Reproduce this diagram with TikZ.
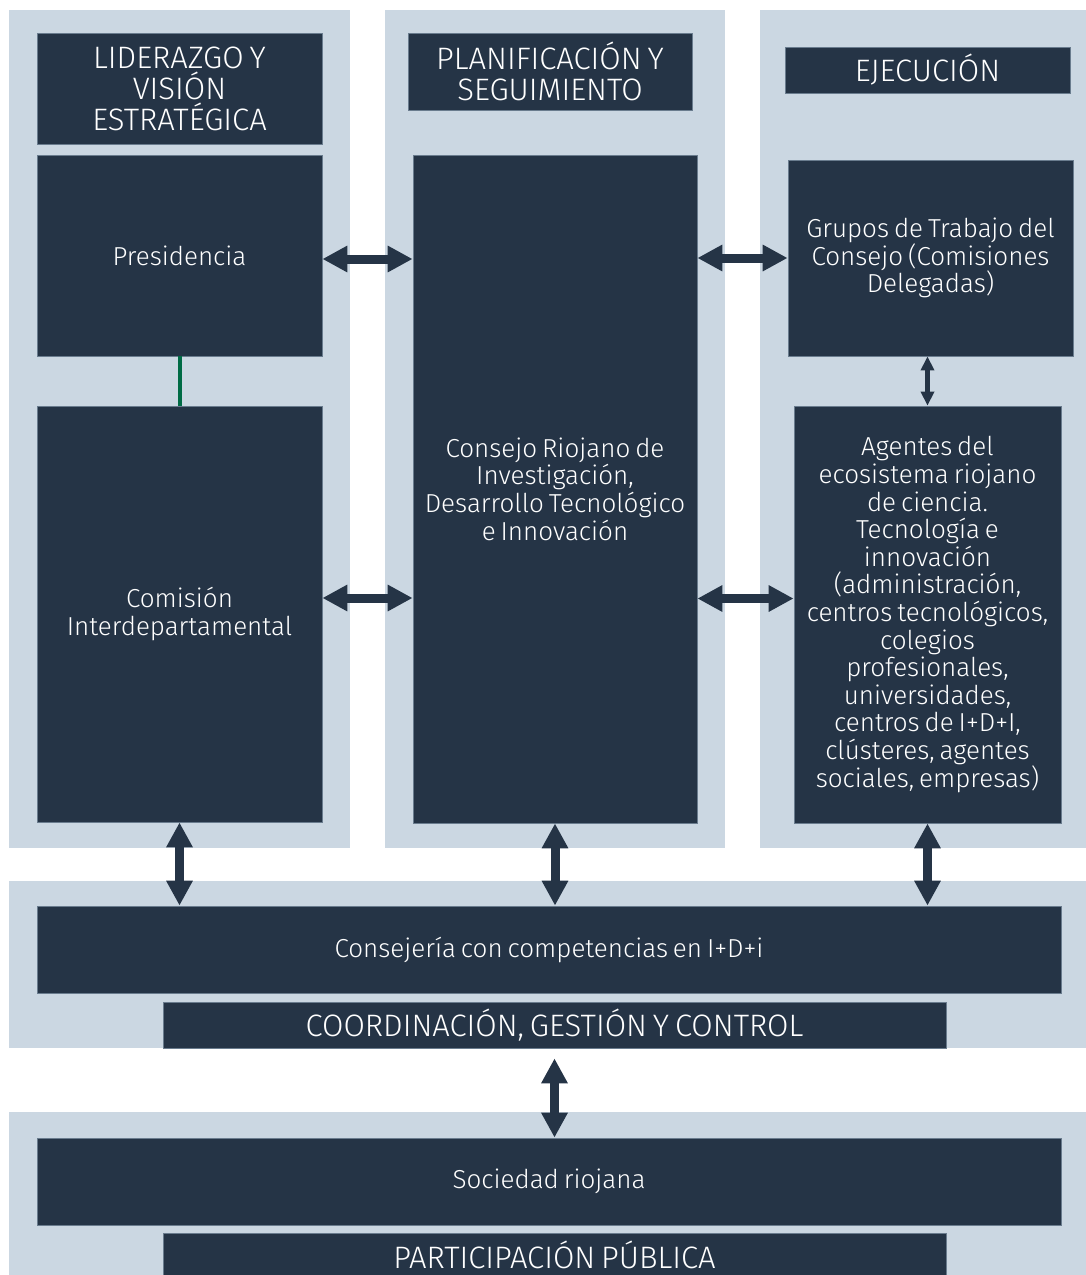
\documentclass[tikz,border=0pt]{standalone}
\usepackage{fontspec}
\setmainfont{Fira Sans}[UprightFont=* Light,WordSpace=0.68]
\usetikzlibrary{arrows.meta}
\definecolor{panel}{HTML}{CBD7E2}
\definecolor{dark}{HTML}{253446}
\definecolor{edge}{HTML}{6A7C8E}
\definecolor{grn}{HTML}{006B45}
\begin{document}
\begin{tikzpicture}[x=1pt,y=-1pt,
  box/.style={fill=dark,draw=edge,line width=0.8pt,text=white,align=center,inner sep=0pt,
    font=\fontsize{26}{27.6}\selectfont},
  head/.style={box,font=\fontsize{31}{31}\selectfont},
  bigarrow/.style={draw=dark,line width=9pt,{Triangle[width=25pt,length=25pt]}-{Triangle[width=25pt,length=25pt]}},
  smallarrow/.style={draw=dark,line width=4.5pt,{Triangle[width=13pt,length=14pt]}-{Triangle[width=13pt,length=14pt]}}
]
\useasboundingbox (0,0) rectangle (1086,1275);
% background panels
\fill[panel] (9,10) rectangle (350,848);
\fill[panel] (385,10) rectangle (725,848);
\fill[panel] (760,10) rectangle (1086,848);
\fill[panel] (9,881) rectangle (1086,1048);
\fill[panel] (9,1112) rectangle (1086,1275);
% boxes
\node[head,minimum width=285,minimum height=111] (lid) at (179.5,88.5) {LIDERAZGO Y\\VISIÓN\\ESTRATÉGICA};
\node[box,minimum width=285,minimum height=201] (pres) at (179.5,255.5) {Presidencia};
\node[box,minimum width=285,minimum height=416] (com) at (179.5,614) {Comisión\\Interdepartamental};
\node[head,minimum width=284,minimum height=77] (plan) at (550,71.5) {PLANIFICACIÓN Y\\SEGUIMIENTO};
\node[box,minimum width=284,minimum height=668] (cons) at (555,489) {Consejo Riojano de\\Investigación,\\Desarrollo Tecnológico\\e Innovación};
\node[head,minimum width=285,minimum height=46] (eje) at (927.5,70) {EJECUCIÓN};
\node[box,minimum width=285,minimum height=196] (grp) at (930.5,258) {Grupos de Trabajo del\\Consejo (Comisiones\\Delegadas)};
\node[box,minimum width=267,minimum height=417] (age) at (927.5,614.5) {Agentes del\\ecosistema riojano\\de ciencia.\\Tecnología e\\innovación\\(administración,\\centros tecnológicos,\\colegios\\profesionales,\\universidades,\\centros de I+D+I,\\clústeres, agentes\\sociales, empresas)};
\node[box,minimum width=1024,minimum height=87] (csj) at (549,949.5) {Consejería con competencias en I+D+i};
\node[head,minimum width=783,minimum height=46] (coord) at (554.5,1025) {COORDINACIÓN, GESTIÓN Y CONTROL};
\node[box,minimum width=1024,minimum height=87] (soc) at (549,1181.5) {Sociedad riojana};
\node[head,minimum width=783,minimum height=44] (part) at (554.5,1255) {PARTICIPACIÓN PÚBLICA};
% connectors
\draw[grn,line width=4pt] (pres.south) -- (com.north);
\draw[bigarrow] ([yshift=-3.5]pres.east) -- ([yshift=-3.5]pres.east -| cons.west);
\draw[bigarrow] ([yshift=16]com.east) -- ([yshift=16]com.east -| cons.west);
\draw[bigarrow] (cons.east |- grp.west) -- (grp.west);
\draw[bigarrow] ([yshift=16]age.west -| cons.east) -- ([yshift=16]age.west);
\draw[smallarrow] (grp.south -| age.north) -- (age.north);
\draw[bigarrow] (com.south) -- (com.south |- csj.north);
\draw[bigarrow] (cons.south) -- (cons.south |- csj.north);
\draw[bigarrow] (age.south) -- (age.south |- csj.north);
\coordinate (cs) at ([yshift=-10]coord.south);
\draw[bigarrow] (cs) -- (cs |- soc.north);
\end{tikzpicture}
\end{document}
